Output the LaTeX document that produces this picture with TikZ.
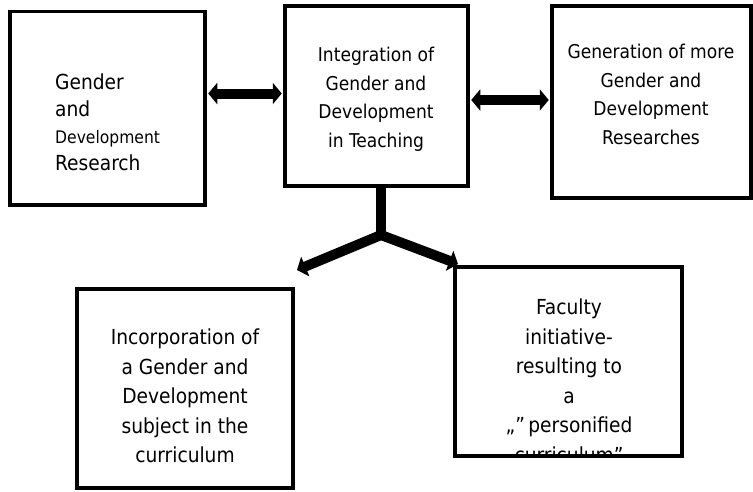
\documentclass[tikz,border=0pt]{standalone}
\usepackage{fontspec}
\setmainfont{DejaVu Sans Condensed}
\usetikzlibrary{arrows.meta}
\begin{document}
\begin{tikzpicture}[x=1pt,y=-1pt,
  box/.style={draw=black,line width=3.5pt,inner sep=0pt},
  txt/.style={inner sep=0pt,align=center,font=\fontsize{19}{28.5}\selectfont},
  bigtxt/.style={txt,font=\fontsize{20.7}{29.5}\selectfont},
  fat/.style={line width=10pt,draw=black},
  biarrow/.style={fat,{Triangle[length=9pt,width=21pt]}-{Triangle[length=9pt,width=21pt]},shorten <=1.5pt,shorten >=1.5pt},
  onearrow/.style={fat,-{Triangle[length=9pt,width=21pt]}}]
\useasboundingbox (0,0) rectangle (753,491);
% boxes
\node[box,minimum width=195pt,minimum height=193.5pt] (b1) at (107.5,108.25) {};
\node[box,minimum width=183pt,minimum height=180pt] (b2) at (376.5,96) {};
\node[box,minimum width=199pt,minimum height=192pt] (b3) at (651.5,102) {};
\node[box,minimum width=216pt,minimum height=199pt] (b4) at (185,388.5) {};
\node[box,minimum width=227pt,minimum height=189pt] (b5) at (568.5,361.5) {};
% texts
\node[txt,align=left,anchor=west,font=\fontsize{20.7}{27}\selectfont] (t1) at (55,122.5) {Gender\\and\\{\fontsize{17.3}{27}\selectfont Development}\\Research};
\node[txt] (t2) at (376,99.5) {Integration of\\Gender and\\Development\\in Teaching};
\node[txt] (t3) at (651,94.5) {Generation of more\\Gender and\\Development\\Researches};
\node[bigtxt] (t4) at (185,396) {Incorporation of\\a Gender and\\Development\\subject in the\\curriculum};
\begin{scope}
\clip (455,267) rectangle (682,454);
\node[bigtxt] (t5) at (569,381) {Faculty\\initiative-\\resulting to\\a\\„\char"201D\,personified\\curriculum\char"201D};
\end{scope}
% connectors
\coordinate (la) at (0,93.5);
\coordinate (ra) at (0,100);
\draw[biarrow] (b1.east |- la) -- (b2.west |- la);
\draw[biarrow] (b2.east |- ra) -- (b3.west |- ra);
\coordinate (stemtop) at (381,187);
\coordinate (joint) at (381,235);
\coordinate (lend) at (297,270);
\coordinate (rend) at (458,264);
\draw[fat] (stemtop) -- (joint);
\draw[onearrow] (joint) -- (lend);
\draw[onearrow] (joint) -- (rend);
\end{tikzpicture}
\end{document}
